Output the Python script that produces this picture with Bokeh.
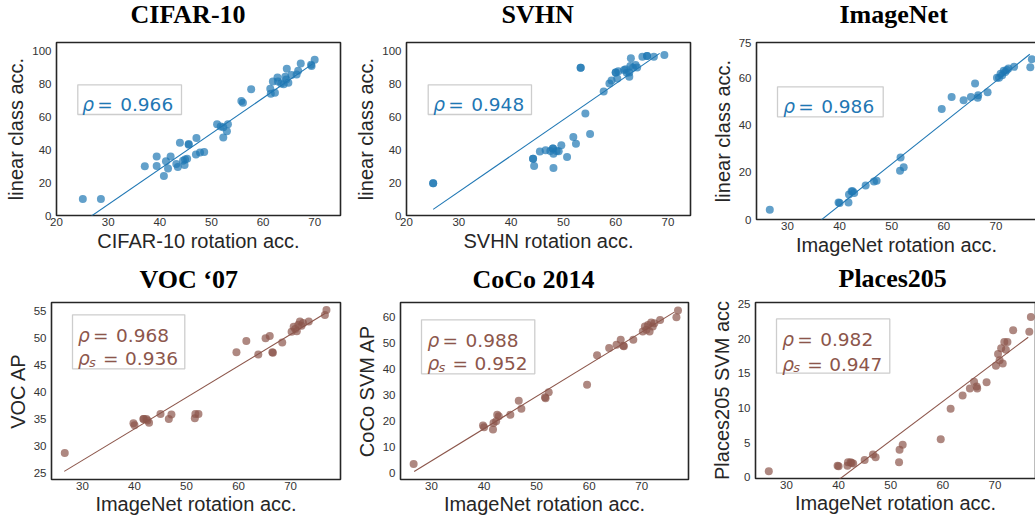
from bokeh.plotting import figure
from bokeh.layouts import row, column
from bokeh.models import Label, BoxAnnotation, FixedTicker, Range1d
from bokeh.embed import file_html
from bokeh.resources import INLINE

BLUE = "#1f77b4"
BROWN = "#8c564b"

# ---------------- data ----------------
cifar_rot = [25.1, 28.6, 37.1, 39.4, 39.4, 40.8, 41.2, 41.6, 42.1, 43.2,
             43.5, 43.9, 44.5, 44.8, 44.9, 45.3, 45.6, 45.6, 47.0, 47.1,
             47.8, 48.6, 51.1, 51.8, 52.3, 52.3, 53.0, 53.2, 55.8, 56.1,
             57.7, 61.4, 61.5, 61.9, 62.3, 62.8, 62.9, 63.5, 64.0, 64.3,
             64.5, 64.6, 64.9, 65.5, 66.5, 66.8, 67.3, 69.3, 69.4, 70.0]
cifar_lin = [10.0, 10.0, 29.9, 35.8, 30.0, 24.0, 32.9, 28.5, 35.8, 31.3,
             29.5, 44.2, 33.3, 30.7, 34.0, 34.4, 43.4, 43.0, 37.0, 47.1,
             38.2, 38.6, 55.4, 54.0, 53.5, 47.3, 51.1, 55.4, 69.5, 68.5,
             76.6, 77.0, 73.9, 81.4, 74.5, 83.8, 81.3, 80.1, 79.7, 84.2,
             82.5, 89.1, 80.5, 85.2, 85.6, 87.9, 92.3, 91.5, 90.7, 94.5]
cifar_fit_x = [25.1, 69.6]
cifar_fit_y = [-3.9, 92.0]

svhn_rot = [25.1, 25.1, 44.2, 44.2, 44.4, 45.5, 46.6, 47.5, 48.0, 48.0,
            48.1, 48.1, 48.7, 49.1, 49.6, 50.7, 51.9, 52.4, 53.3, 53.3,
            54.2, 55.1, 57.7, 58.8, 59.2, 60.0, 60.0, 60.3, 60.5, 61.6,
            61.9, 62.1, 62.6, 62.6, 62.8, 62.9, 63.3, 63.8, 64.1, 65.1,
            66.0, 66.0, 67.3, 69.3]
svhn_lin = [19.5, 19.5, 34.5, 34.5, 30.0, 38.8, 39.6, 39.2, 40.6, 40.6,
            37.5, 28.8, 39.2, 39.0, 42.6, 35.5, 47.7, 43.6, 89.7, 89.7,
            61.9, 49.5, 75.3, 80.1, 82.0, 86.8, 86.8, 83.2, 87.6, 88.3,
            88.8, 86.7, 86.8, 84.2, 90.7, 95.4, 89.7, 91.3, 89.9, 96.4,
            96.8, 96.8, 96.4, 97.4]
svhn_fit_x = [25.1, 68.4]
svhn_fit_y = [3.7, 98.4]

imnet_rot = [26.6, 39.8, 40.0, 41.7, 41.8, 42.3, 42.5, 42.8, 45.0, 46.6,
             47.1, 51.6, 51.7, 52.3, 59.6, 61.5, 63.8, 65.2, 66.0, 66.5,
             66.6, 68.4, 70.2, 70.6, 70.9, 71.2, 71.5, 71.8, 72.1, 72.4,
             73.5, 76.6, 76.9]
imnet_lin = [4.1, 7.2, 7.0, 7.2, 10.6, 12.0, 12.0, 11.2, 14.4, 16.1,
             16.4, 20.7, 26.3, 22.1, 46.8, 51.9, 50.5, 51.9, 57.6, 51.6,
             52.6, 53.9, 60.1, 60.1, 61.8, 61.1, 63.0, 62.5, 63.3, 64.0,
             64.7, 64.5, 67.9]
voc_ap = [28.7, 34.2, 33.8, 35.0, 35.0, 35.0, 34.7, 34.3, 35.9, 35.0,
          35.8, 35.1, 35.9, 35.9, 47.3, 49.4, 46.9, 49.9, 50.3, 47.3,
          47.2, 49.1, 51.1, 52.0, 51.6, 51.2, 52.4, 53.0, 52.2, 52.7,
          53.0, 54.2, 55.1]
coco_ap = [3.4, 18.1, 17.5, 16.6, 19.1, 19.8, 22.3, 21.7, 22.3, 27.7,
           24.6, 29.0, 28.6, 30.9, 33.8, 45.1, 47.9, 49.2, 51.1, 48.8,
           48.6, 51.1, 54.3, 56.2, 54.9, 56.8, 54.3, 57.7, 56.2, 57.4,
           58.7, 59.7, 62.3]
places_acc = [0.9, 1.7, 1.6, 1.7, 2.2, 2.2, 2.1, 2.0, 2.5, 3.3,
              2.9, 2.2, 4.0, 4.7, 5.5, 9.9, 11.8, 12.8, 13.8, 13.1,
              12.8, 13.7, 16.1, 17.8, 16.9, 18.6, 16.4, 19.5, 18.4, 19.5,
              21.2, 21.0, 23.1]
imnet_fit_x = [26.6, 76.5]
imnet_fit_y = [-17.5, 70.0]
voc_fit_x = [26.5, 76.7]
voc_fit_y = [25.3, 54.5]
coco_fit_x = [26.7, 76.2]
coco_fit_y = [0.5, 61.7]
places_fit_x = [26.6, 76.4]
places_fit_y = [-7.9, 20.2]

ticks_20_70 = [20, 30, 40, 50, 60, 70]
ticks_30_70 = [30, 40, 50, 60, 70]
ticks_0_100 = [0, 20, 40, 60, 80, 100]
ticks_imnet_y = [0, 20, 40, 60, 75]
ticks_voc_y = [25, 30, 35, 40, 45, 50, 55]
ticks_coco_y = [0, 10, 20, 30, 40, 50, 60]
ticks_places_y = [0, 5, 10, 15, 20, 25]

# rho values: (pearson, spearman or None)
rho_cifar = ("0.966", None)
rho_svhn = ("0.948", None)
rho_imnet = ("0.986", None)
rho_voc = ("0.968", "0.936")
rho_coco = ("0.988", "0.952")
rho_places = ("0.982", "0.947")

TXT = "#262626"


def panel(title, title_off, title_standoff, xs, ys, fx, fy, color, xr, yr,
          xticks, yticks, xlabel, ylabel, frame, borders, box, text_left,
          baselines, rho, xlab_standoff):
    fw, fh = frame
    bl, br, bt, bb = borders
    x0, x1 = xr
    y0, y1 = yr
    p = figure(frame_width=fw, frame_height=fh,
               min_border_left=bl, min_border_right=br,
               min_border_top=bt, min_border_bottom=bb,
               x_range=Range1d(x0, x1), y_range=Range1d(y0, y1),
               output_backend="svg", toolbar_location=None,
               background_fill_color="white", border_fill_color=None,
               title=title)
    p.grid.visible = False
    p.outline_line_color = "#262626"
    p.outline_line_width = 1.6
    for ax in (p.xaxis[0], p.yaxis[0]):
        ax.axis_line_color = None
        ax.major_tick_line_color = None
        ax.minor_tick_line_color = None
        ax.major_tick_out = 0
        ax.major_tick_in = 0
        ax.minor_tick_out = 0
        ax.minor_tick_in = 0
        ax.major_label_text_font = "Liberation Sans"
        ax.major_label_text_font_size = "11.5px"
        ax.major_label_text_color = "#333333"
        ax.axis_label_text_font = "Liberation Sans"
        ax.axis_label_text_font_size = "20px"
        ax.axis_label_text_font_style = "normal"
        ax.axis_label_text_color = TXT
    p.xaxis.ticker = FixedTicker(ticks=xticks)
    p.yaxis.ticker = FixedTicker(ticks=yticks)
    p.xaxis.axis_label = xlabel
    p.yaxis.axis_label = ylabel
    p.xaxis.major_label_standoff = 2
    p.xaxis.axis_label_standoff = xlab_standoff
    p.yaxis.major_label_standoff = 5
    p.yaxis.axis_label_standoff = 2

    p.title.text_font = "Liberation Serif"
    p.title.text_font_size = "26px"
    p.title.text_font_style = "bold"
    p.title.text_color = "black"
    p.title.align = "left"
    p.title.vertical_align = "bottom"
    p.title.offset = title_off
    p.title.standoff = title_standoff

    def dx(px):
        return x0 + px * (x1 - x0) / fw

    def dy(py):
        return y1 - py * (y1 - y0) / fh

    p.line(fx, fy, line_color=color, line_width=1.1)
    p.scatter(xs, ys, size=8, fill_color=color, fill_alpha=0.7,
              line_color=None)

    bx0, bx1, by0, by1 = box
    p.add_layout(BoxAnnotation(left=dx(bx0), right=dx(bx1), top=dy(by0),
                               bottom=dy(by1), fill_color="white",
                               fill_alpha=1.0, line_color="#5a5a5a",
                               line_width=1.3))
    fs = "18.5px"

    def lab(px, py, text, italic=False, size=fs):
        p.add_layout(Label(x=dx(px), y=dy(py), text=text,
                           text_font="DejaVu Sans", text_font_size=size,
                           text_font_style="italic" if italic else "normal",
                           text_color=color, text_align="left",
                           text_baseline="alphabetic"))

    pear, spear = rho
    b1 = baselines[0]
    lab(text_left, b1, "ρ", italic=True)
    lab(text_left + 15, b1, "=")
    lab(text_left + 38, b1, pear)
    if spear is not None:
        b2 = baselines[1]
        lab(text_left, b2, "ρ", italic=True)
        lab(text_left + 11, b2 + 3.5, "s", italic=True, size="13px")
        lab(text_left + 25, b2, "=")
        lab(text_left + 47, b2, spear)
    return p


p1 = panel("CIFAR-10", 74, 27, cifar_rot, cifar_lin, cifar_fit_x, cifar_fit_y,
           BLUE, (20, 75), (0, 105), ticks_20_70, ticks_0_100,
           "CIFAR-10 rotation acc.", "linear class acc.",
           (284, 173), (56, 12, 58, 45), (21.3, 125, 42.3, 72), 25.7,
           [62.3], rho_cifar, 1)
p2 = panel("SVHN", 95, 27, svhn_rot, svhn_lin, svhn_fit_x, svhn_fit_y,
           BLUE, (20, 74.3), (0, 105), ticks_20_70, ticks_0_100,
           "SVHN rotation acc.", "linear class acc.",
           (284, 173), (52, 12, 58, 45), (21.7, 125, 42.3, 72), 26.7,
           [62.3], rho_svhn, 1)
p3 = panel("ImageNet", 83, 27, imnet_rot, imnet_lin, imnet_fit_x, imnet_fit_y,
           BLUE, (24.05, 77.79), (0, 75), ticks_30_70, ticks_imnet_y,
           "ImageNet rotation acc.", "linear class acc.",
           (280, 177), (54, 1, 58, 41), (21, 126.7, 44.3, 74.3), 26.7,
           [64.3], rho_imnet, 1)
p4 = panel("VOC \u201807", 88, 18, imnet_rot, voc_ap, voc_fit_x, voc_fit_y,
           BROWN, (24.05, 79.6), (23.8, 56.5), ticks_30_70, ticks_voc_y,
           "ImageNet rotation acc.", "VOC AP",
           (289, 177), (51, 12, 49, 41), (21, 133.3, 12.3, 66.3), 26.6,
           [33.3, 56.3], rho_voc, 0)
p5 = panel("CoCo 2014", 72, 18, imnet_rot, coco_ap, coco_fit_x, coco_fit_y,
           BROWN, (24.1, 78.9), (-2.6, 65.4), ticks_30_70, ticks_coco_y,
           "ImageNet rotation acc.", "CoCo SVM AP",
           (288, 177), (47, 13, 49, 41), (21, 134.3, 17.3, 71.3), 27,
           [38.3, 61.3], rho_coco, 0)
p6 = panel("Places205", 83, 20, imnet_rot, places_acc, places_fit_x,
           places_fit_y, BROWN, (24.05, 77.79), (-0.15, 25.2), ticks_30_70,
           ticks_places_y, "ImageNet rotation acc.", "Places205 SVM acc",
           (280, 176), (54, 1, 51, 41), (21, 134.3, 16.4, 70.7), 26.7,
           [37.4, 61.7], rho_places, 0)

top_row = row(p1, p2, p3, margin=(-16, 0, 0, 0))
bottom_row = row(p4, p5, p6, margin=(-9, 0, 0, 0))
layout = column(top_row, bottom_row)
open("out.html", "w").write(file_html(layout, INLINE))
